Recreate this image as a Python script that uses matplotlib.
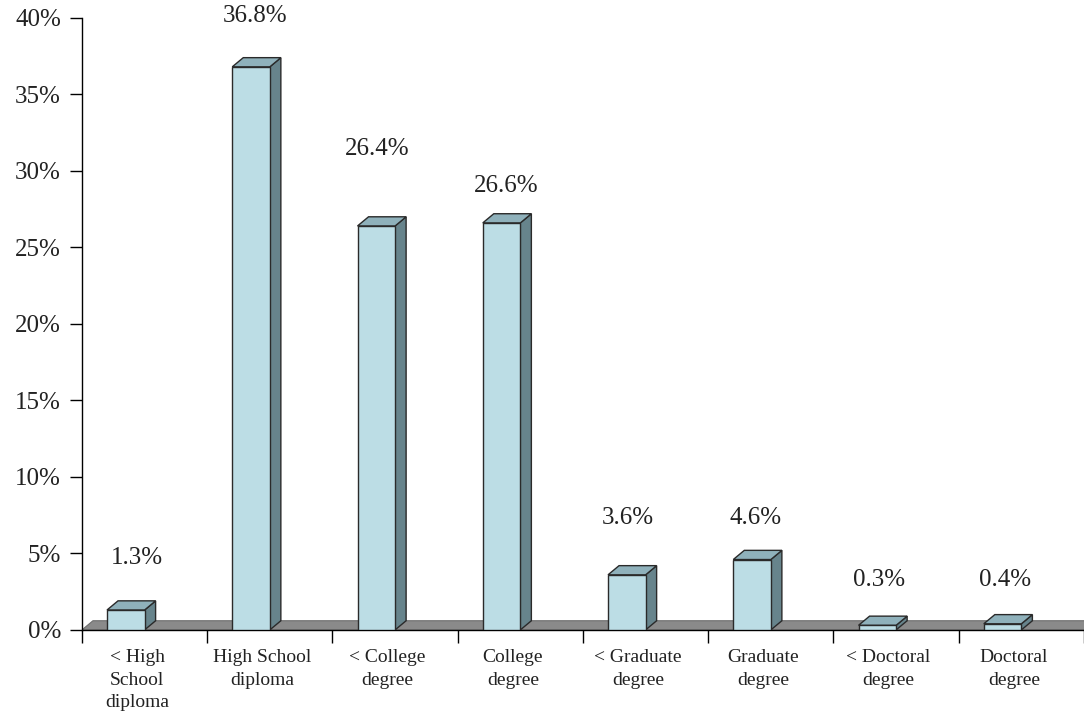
import matplotlib
matplotlib.use('Agg')
import matplotlib.pyplot as plt
from matplotlib.patches import Polygon

plt.rcParams['font.family'] = ['Liberation Serif', 'DejaVu Serif']

# data
categories = ['< High\nSchool\ndiploma', 'High School\ndiploma', '< College\ndegree',
              'College\ndegree', '< Graduate\ndegree', 'Graduate\ndegree',
              '< Doctoral\ndegree', 'Doctoral\ndegree']
values = [1.3, 36.8, 26.4, 26.6, 3.6, 4.6, 0.3, 0.4]
labels = ['1.3%', '36.8%', '26.4%', '26.6%', '3.6%', '4.6%', '0.3%', '0.4%']
yticks = [0, 5, 10, 15, 20, 25, 30, 35, 40]

# layout: value-label placement as in the original (x offset in category, y in %)
label_dx = [0.44, 0.38, 0.36, 0.39, 0.36, 0.38, 0.36, 0.37]
label_y = [4.7, 40.1, 31.4, 29.0, 7.3, 7.3, 3.27, 3.27]

FRONT = '#bcdde5'
TOP = '#8fb1bb'
SIDE = '#67848c'
EDGE = '#2a2a2a'
FLOOR = '#8a8a8a'

fig = plt.figure(figsize=(10.84, 7.15), dpi=100)
ax = fig.add_axes([0.0756, 0.119, 0.9244, 0.856])
ax.set_xlim(0, len(values))
ax.set_ylim(0, 40)

dx, dy = 0.088, 0.6  # 3d depth offset (data units)
w0, w1 = 0.2, 0.5     # front face x range inside each category

# floor
floor = Polygon([(0, 0), (len(values), 0), (len(values) + dx, dy), (dx, dy)],
                closed=True, facecolor=FLOOR, edgecolor='#6e6e6e', lw=0.8,
                zorder=1, clip_on=True)
ax.add_patch(floor)

for i, v in enumerate(values):
    x0, x1 = i + w0, i + w1
    front = [(x0, 0), (x1, 0), (x1, v), (x0, v)]
    side = [(x1, 0), (x1 + dx, dy), (x1 + dx, v + dy), (x1, v)]
    top = [(x0, v), (x1, v), (x1 + dx, v + dy), (x0 + dx, v + dy)]
    for pts, c in ((side, SIDE), (top, TOP), (front, FRONT)):
        ax.add_patch(Polygon(pts, closed=True, facecolor=c, edgecolor=EDGE,
                             lw=1.0, zorder=3, joinstyle='miter'))
    ax.text(i + label_dx[i], label_y[i], labels[i], ha='center', va='center',
            fontsize=18, color='#222222', clip_on=False)

# axes styling
for s in ('top', 'right'):
    ax.spines[s].set_visible(False)
ax.spines['left'].set_linewidth(1.0)
ax.spines['bottom'].set_linewidth(1.0)
ax.spines['bottom'].set_zorder(2)

ax.set_yticks(yticks)
ax.set_yticklabels([f'{t}%' for t in yticks], fontsize=18, color='#222222')
ax.tick_params(axis='y', direction='out', length=9, width=1, pad=6)

ax.set_xticks([i + 0.44 for i in range(len(values))])
ax.set_xticklabels(categories, fontsize=14, color='#222222', linespacing=1.4)
ax.set_xticks(range(len(values) + 1), minor=True)
ax.tick_params(axis='x', which='major', length=0, pad=14)
ax.tick_params(axis='x', which='minor', direction='out', length=9, width=1)

fig.savefig('out.png', dpi=100)
